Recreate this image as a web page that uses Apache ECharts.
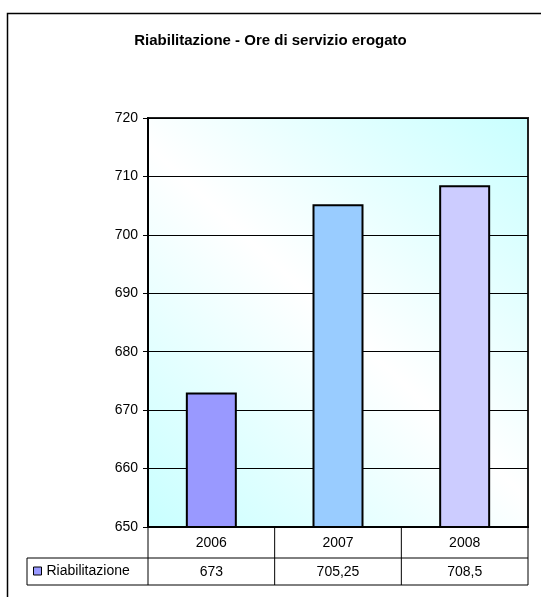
<!DOCTYPE html>
<html>
<head>
<meta charset="utf-8">
<script src="https://cdn.jsdelivr.net/npm/echarts@6/dist/echarts.min.js"></script>
<style>
  html, body { margin: 0; padding: 0; background: #fff; }
  #main { width: 541px; height: 597px; }
</style>
</head>
<body>
<div id="main"></div>
<script>
// data
const years = ["2006", "2007", "2008"];
const hours = [673, 705.25, 708.5];
const barColors = ["#9999ff", "#99ccff", "#ccccff"];
const seriesName = "Riabilitazione";

const fontFam = "Liberation Sans, Arial, sans-serif";
const fmt = (v) => String(v).replace(".", ",");

var myChart = echarts.init(document.getElementById("main"));

var option = {
  animation: false,
  textStyle: { fontFamily: fontFam },
  title: {
    text: "Riabilitazione - Ore di servizio erogato",
    left: "center",
    top: 28,
    textStyle: { fontSize: 15, fontWeight: "bold", color: "#000", fontFamily: fontFam },
  },
  legend: {
    data: [seriesName],
    left: 33,
    top: 564,
    padding: 0,
    icon: "rect",
    itemWidth: 8,
    itemHeight: 8,
    itemGap: 5,
    itemStyle: { borderColor: "#000", borderWidth: 1 },
    textStyle: { fontSize: 14, color: "#000", fontFamily: fontFam },
  },
  grid: {
    left: 148,
    right: 13,
    top: 118,
    bottom: 70,
    show: true,
    borderColor: "#222",
    borderWidth: 2,
    backgroundColor: new echarts.graphic.LinearGradient(1, 0, 0, 1, [
      { offset: 0, color: "#c8ffff" },
      { offset: 0.5, color: "#ffffff" },
      { offset: 1, color: "#c8ffff" },
    ]),
  },
  xAxis: [
    {
      type: "category",
      data: years,
      axisLine: { show: true, lineStyle: { color: "#000", width: 2 } },
      axisTick: { show: false },
      axisLabel: { color: "#000", fontSize: 14, margin: 9 },
    },
    {
      type: "category",
      data: hours.map(fmt),
      position: "bottom",
      offset: 29,
      axisLine: { show: false },
      axisTick: { show: false },
      axisLabel: { color: "#000", fontSize: 14, margin: 9 },
    },
  ],
  yAxis: {
    type: "value",
    min: 650,
    max: 720,
    interval: 10,
    axisLine: { show: true, lineStyle: { color: "#000", width: 2 } },
    axisTick: { show: true, length: 5, lineStyle: { color: "#000" } },
    axisLabel: { color: "#000", fontSize: 14, margin: 10 },
    splitLine: { show: true, lineStyle: { color: "#000", width: 1 } },
  },
  series: [
    {
      name: seriesName,
      type: "bar",
      xAxisIndex: 0,
      barWidth: 51,
      itemStyle: { color: barColors[0], borderColor: "#000", borderWidth: 2 },
      data: hours.map((v, i) => ({ value: v, itemStyle: { color: barColors[i] } })),
    },
  ],
};

myChart.setOption(option);

// data table lines, placed from the axes
var yBase = myChart.convertToPixel({ yAxisIndex: 0 }, 650);
var centers = years.map((y) => myChart.convertToPixel({ xAxisIndex: 0 }, y));
var step = centers.length > 1 ? centers[1] - centers[0] : 126;
var xs = [centers[0] - step / 2];
centers.forEach((c) => xs.push(c + step / 2));
var legendLeft = 27;
var row1 = yBase + 31;
var row2 = yBase + 58;
var lineStyle = { stroke: "#000", lineWidth: 1 };
var elements = [];
function line(x1, y1, x2, y2) {
  elements.push({ type: "line", shape: { x1: x1, y1: y1, x2: x2, y2: y2 }, style: lineStyle, silent: true });
}
line(legendLeft, row1, xs[xs.length - 1], row1);
line(legendLeft, row2, xs[xs.length - 1], row2);
line(legendLeft, row1, legendLeft, row2);
xs.forEach((x) => line(x, yBase, x, row2));
// outer chart border (top and left visible)
elements.push({
  type: "rect",
  shape: { x: 7.5, y: 13.5, width: 700, height: 700 },
  style: { fill: "none", stroke: "#000", lineWidth: 1.5 },
  silent: true,
});

myChart.setOption({ graphic: { elements: elements } });
</script>
</body>
</html>
